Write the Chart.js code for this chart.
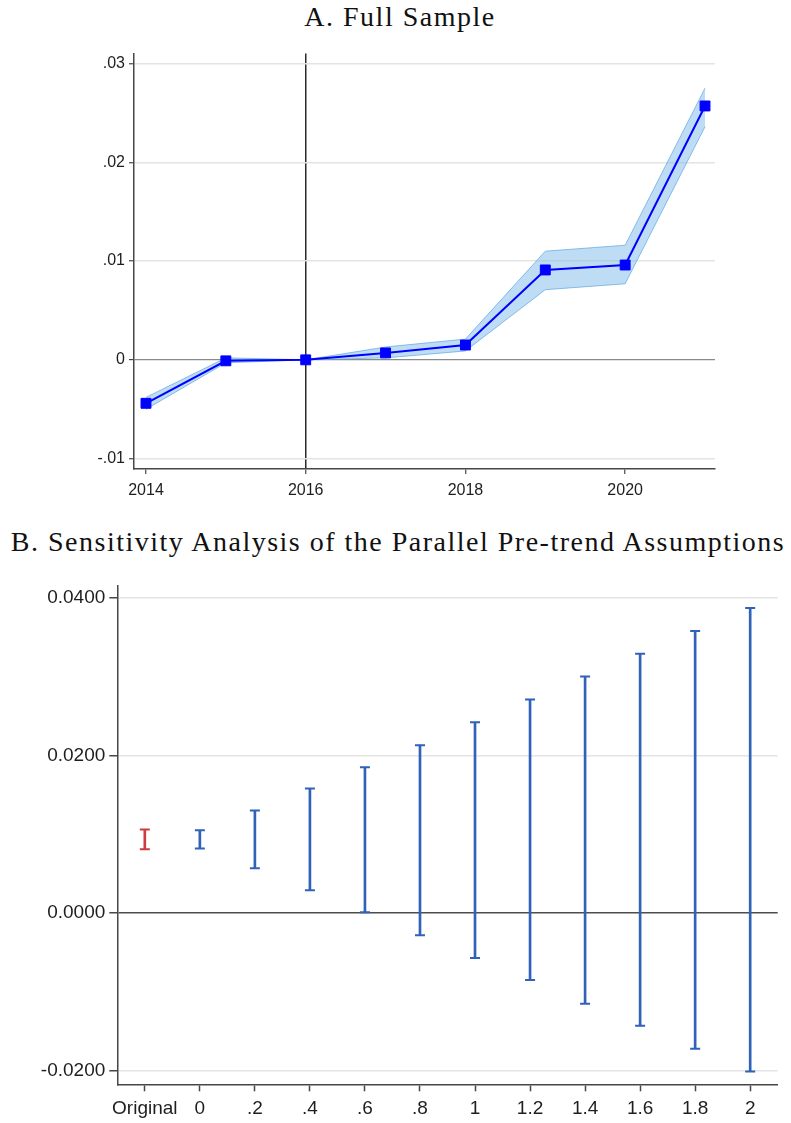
<!DOCTYPE html>
<html>
<head>
<meta charset="utf-8">
<script src="https://cdn.jsdelivr.net/npm/chart.js@4.4.1/dist/chart.umd.min.js"></script>
<style>
  html, body { margin: 0; padding: 0; background: #fff; }
  body { position: relative; width: 791px; height: 1123px; overflow: hidden; }
  .panel-title {
    position: absolute;
    font-family: "Liberation Serif", "Times New Roman", serif;
    font-size: 28px;
    line-height: 28px;
    letter-spacing: 1.5px;
    color: #111;
    white-space: nowrap;
    text-align: center;
  }
  canvas { position: absolute; left: 0; }
</style>
</head>
<body>
<div class="panel-title" style="top:2.5px; left:0; width:800px;">A. Full Sample</div>
<canvas id="eventStudy" width="791" height="480" style="top:40px;"></canvas>
<div class="panel-title" style="top:527.5px; left:-2px; width:800px;">B. Sensitivity Analysis of the Parallel Pre-trend Assumptions</div>
<canvas id="sensitivity" width="791" height="553" style="top:570px;"></canvas>

<script>
// Panel A: event-study coefficients with 95% confidence band
const years = [2014, 2015, 2016, 2017, 2018, 2019, 2020, 2021];
const coef = [-0.0044, -0.0001, 0.0000, 0.0007, 0.0015, 0.0091, 0.0096, 0.0257];
const ciHigh = [-0.0038, 0.0002, 0.0000, 0.0013, 0.0021, 0.0110, 0.0116, 0.0275];
const ciLow = [-0.0050, -0.0003, 0.0000, 0.0002, 0.0009, 0.0071, 0.0077, 0.0236];
const yearTicks = [2014, 2016, 2018, 2020];
const coefTicks = [-0.01, 0, 0.01, 0.02, 0.03];
const coefTickLabels = ['-.01', '0', '.01', '.02', '.03'];
const baseYear = 2016;

// Panel B: robust confidence intervals by relative magnitude M
const mLabels = ['Original', '0', '.2', '.4', '.6', '.8', '1', '1.2', '1.4', '1.6', '1.8', '2'];
const boundLow = [0.0081, 0.0082, 0.0057, 0.0029, 0.0001, -0.0028, -0.0057, -0.0085, -0.0115, -0.0143, -0.0172, -0.0201];
const boundHigh = [0.0106, 0.0105, 0.0130, 0.0158, 0.0185, 0.0213, 0.0242, 0.0271, 0.0300, 0.0329, 0.0358, 0.0387];
const sensTicks = [-0.02, 0, 0.02, 0.04];
const sensTickLabels = ['-0.0200', '0.0000', '0.0200', '0.0400'];

const tickText = '#1e1e1e';
const axisColor = '#474747';
const gridLight = '#e4e4e4';

const asPoints = (ys) => years.map((x, i) => ({ x: x, y: ys[i] }));
const fixedTicks = (list) => (scale) => { scale.ticks = list.map(v => ({ value: v })); };

new Chart(document.getElementById('eventStudy'), {
  type: 'line',
  data: {
    datasets: [
      {
        label: 'Coefficient',
        data: asPoints(coef),
        borderColor: '#0000ff',
        borderWidth: 2,
        pointStyle: 'rect',
        pointRadius: 7,
        pointBackgroundColor: '#0000ff',
        pointBorderColor: '#0000ff',
        pointBorderWidth: 1,
        fill: false,
        order: 0
      },
      {
        label: 'Upper bound',
        data: asPoints(ciHigh),
        borderColor: 'rgba(100,170,228,0.75)',
        borderWidth: 1,
        pointRadius: 0,
        fill: false,
        order: 1
      },
      {
        label: 'Lower bound',
        data: asPoints(ciLow),
        borderColor: 'rgba(100,170,228,0.75)',
        borderWidth: 1,
        pointRadius: 0,
        fill: '-1',
        backgroundColor: 'rgba(125,188,236,0.5)',
        order: 1
      }
    ]
  },
  options: {
    responsive: false,
    animation: false,
    devicePixelRatio: 1,
    layout: { padding: { top: 11.7, right: 76, bottom: 0, left: 0 } },
    plugins: { legend: { display: false }, tooltip: { enabled: false } },
    scales: {
      x: {
        type: 'linear',
        min: 2013.85,
        max: 2021.125,
        afterBuildTicks: fixedTicks(yearTicks),
        afterFit: (s) => { s.height = 51; },
        ticks: {
          font: { family: '"Liberation Sans", Arial, sans-serif', size: 16 },
          color: tickText,
          padding: 7,
          maxRotation: 0,
          autoSkip: false,
          callback: (v) => String(v)
        },
        grid: {
          color: (ctx) => (ctx.tick && ctx.tick.value === baseYear) ? '#2a2a2a' : 'rgba(0,0,0,0)',
          lineWidth: 1.5,
          tickColor: axisColor,
          tickWidth: 1.2,
          tickLength: 5
        },
        border: { display: true, color: axisColor, width: 1.5 }
      },
      y: {
        type: 'linear',
        min: -0.01105,
        max: 0.031,
        afterBuildTicks: fixedTicks(coefTicks),
        afterFit: (s) => { s.width = 134; },
        ticks: {
          font: { family: '"Liberation Sans", Arial, sans-serif', size: 16 },
          color: tickText,
          padding: 4,
          callback: (v, i) => coefTickLabels[i]
        },
        grid: {
          color: (ctx) => (ctx.tick && ctx.tick.value === 0) ? '#8a8a8a' : gridLight,
          lineWidth: (ctx) => (ctx.tick && ctx.tick.value === 0) ? 1.2 : 1.5,
          tickColor: axisColor,
          tickWidth: 1.2,
          tickLength: 5
        },
        border: { display: true, color: axisColor, width: 1.5 }
      }
    }
  }
});

const barColors = mLabels.map((_, i) => i === 0 ? '#cc3d40' : '#2f62b8');

new Chart(document.getElementById('sensitivity'), {
  type: 'bar',
  data: {
    labels: mLabels,
    datasets: [
      {
        label: 'Interval',
        data: mLabels.map((_, i) => [boundLow[i], boundHigh[i]]),
        backgroundColor: barColors,
        borderWidth: 0,
        barThickness: 2,
        order: 1
      },
      {
        type: 'line',
        label: 'Upper',
        data: boundHigh,
        showLine: false,
        pointStyle: 'line',
        pointRadius: 5,
        pointBorderWidth: 2,
        pointBorderColor: barColors,
        pointBackgroundColor: barColors,
        order: 0
      },
      {
        type: 'line',
        label: 'Lower',
        data: boundLow,
        showLine: false,
        pointStyle: 'line',
        pointRadius: 5,
        pointBorderWidth: 2,
        pointBorderColor: barColors,
        pointBackgroundColor: barColors,
        order: 0
      }
    ]
  },
  options: {
    responsive: false,
    animation: false,
    devicePixelRatio: 1,
    layout: { padding: { top: 13.3, right: 13.3, bottom: 0, left: 0 } },
    plugins: { legend: { display: false }, tooltip: { enabled: false } },
    scales: {
      x: {
        offset: true,
        afterFit: (s) => { s.height = 38.7; },
        ticks: {
          font: { family: '"Liberation Sans", Arial, sans-serif', size: 19 },
          color: tickText,
          padding: 6.5,
          maxRotation: 0,
          autoSkip: false
        },
        grid: {
          offset: false,
          drawOnChartArea: false,
          color: axisColor,
          tickColor: axisColor,
          tickWidth: 1.5,
          tickLength: 7
        },
        border: { display: true, color: axisColor, width: 1.5 }
      },
      y: {
        type: 'linear',
        min: -0.02172,
        max: 0.04157,
        afterBuildTicks: fixedTicks(sensTicks),
        afterFit: (s) => { s.width = 117.3; },
        ticks: {
          font: { family: '"Liberation Sans", Arial, sans-serif', size: 19 },
          color: tickText,
          padding: 4,
          callback: (v, i) => sensTickLabels[i]
        },
        grid: {
          color: (ctx) => (ctx.tick && ctx.tick.value === 0) ? '#4d4d4d' : gridLight,
          lineWidth: 1.5,
          tickColor: axisColor,
          tickWidth: 1.5,
          tickLength: 8
        },
        border: { display: true, color: axisColor, width: 1.5 }
      }
    }
  }
});
</script>
</body>
</html>
